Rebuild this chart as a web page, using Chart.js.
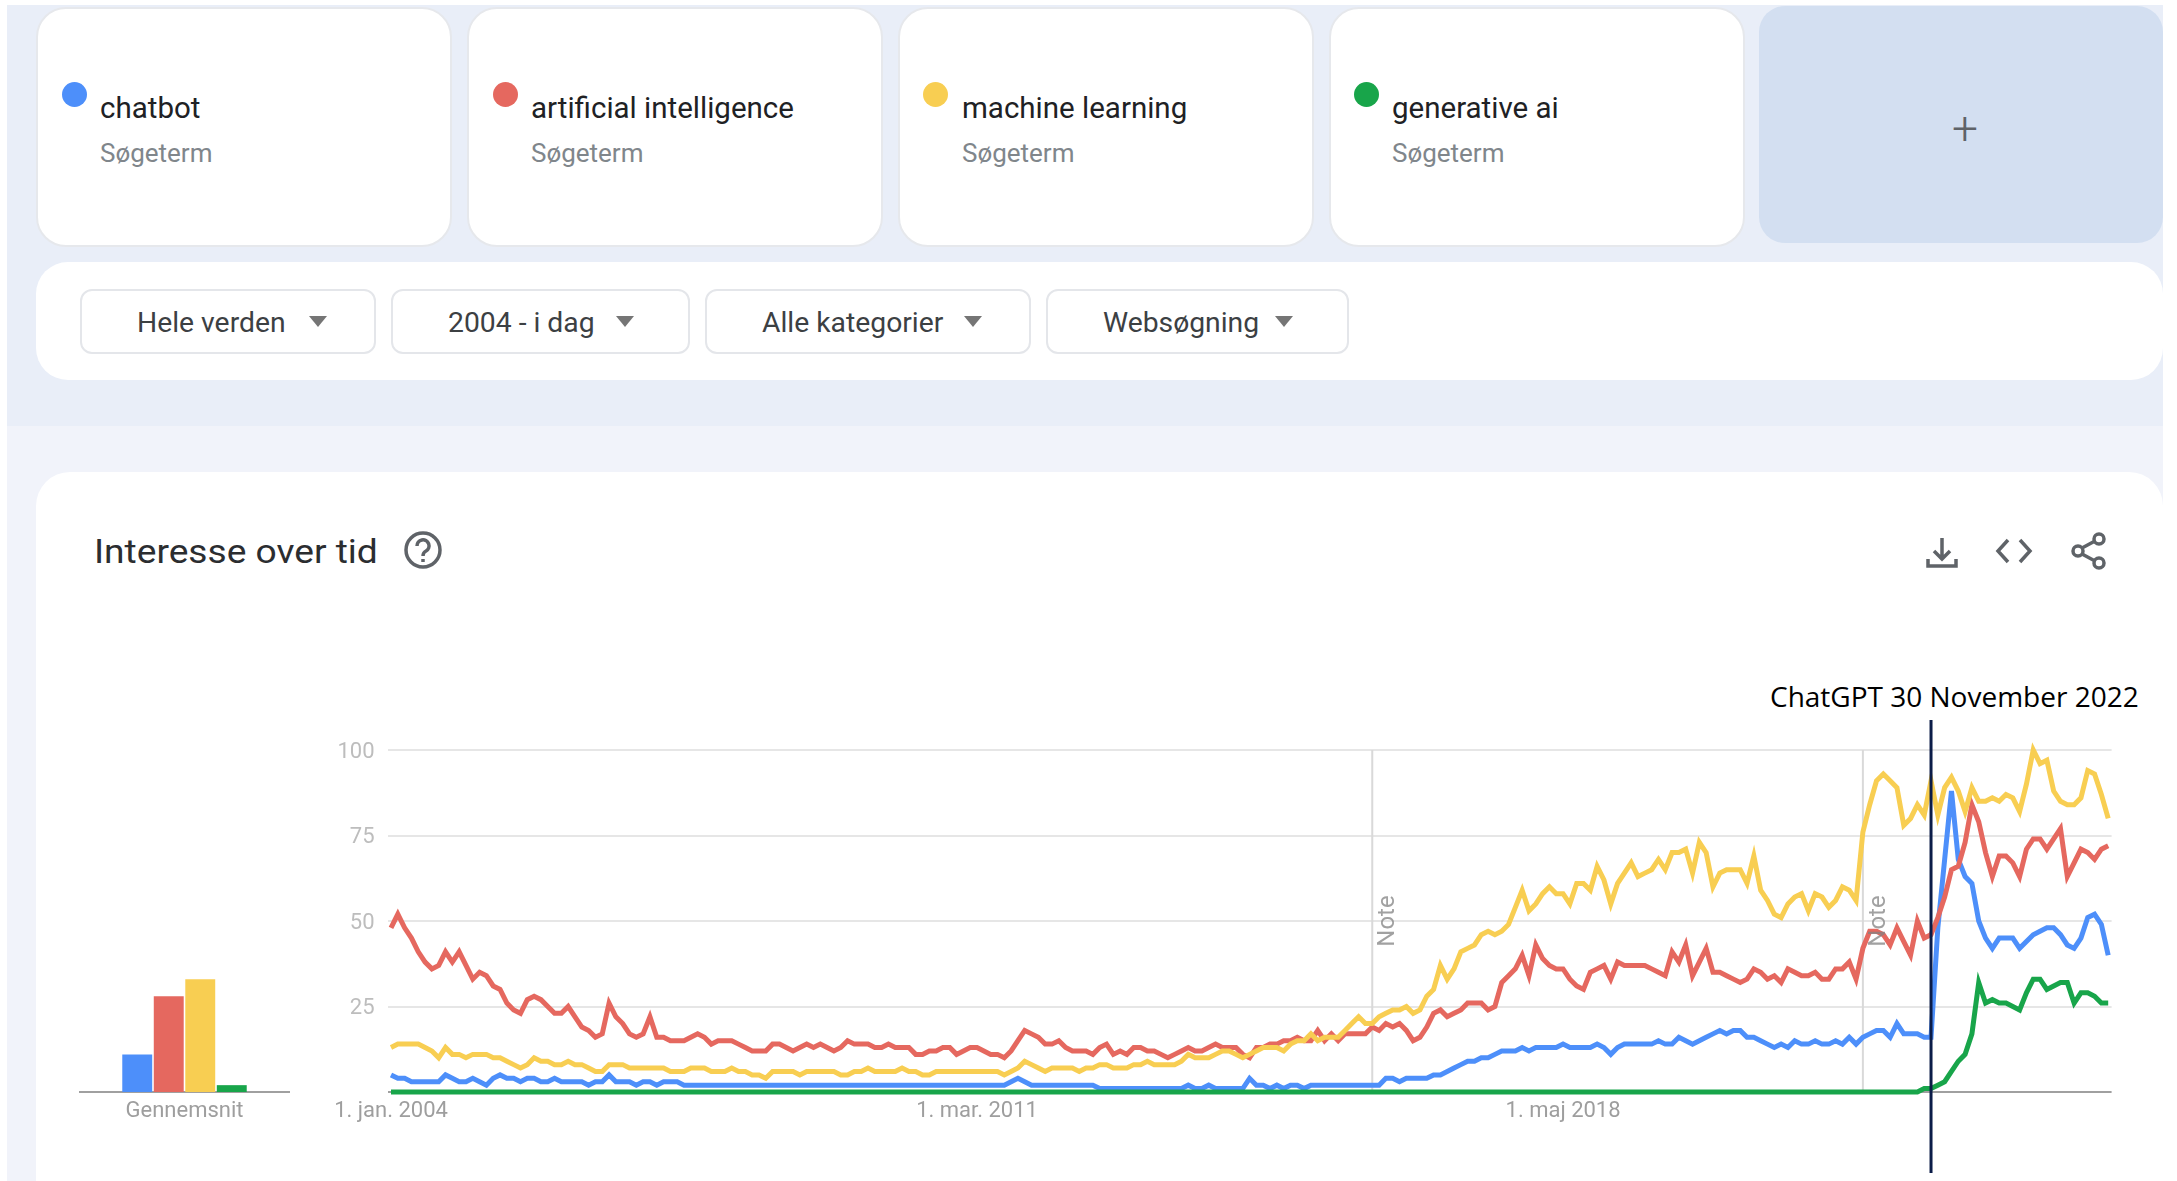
<!DOCTYPE html>
<html>
<head>
<meta charset="utf-8">
<title>Interesse over tid</title>
<script src="https://cdn.jsdelivr.net/npm/chart.js@4/dist/chart.umd.min.js"></script>
<style>
  html, body { margin: 0; padding: 0; background: #fff; width: 2177px; height: 1181px; overflow: hidden; font-family: Roboto, sans-serif; }
  .box { position: absolute; box-sizing: border-box; }
  .txt { position: absolute; white-space: nowrap; line-height: 1; transform-origin: 0 50%; }
  .card { background: #fff; border: 2px solid #e6e8ec; border-radius: 30px; top: 7px; height: 240px; width: 416px; }
  .btn { background: #fff; border: 2px solid #e4e6ea; border-radius: 12px; top: 289px; height: 65px; }
  .dot { position: absolute; width: 25px; height: 25px; border-radius: 50%; top: 82px; }
  .term { font-size: 29.5px; color: #202124; top: 94px; }
  .sub { font-size: 26px; color: #80868b; top: 140px; }
  .flt { font-size: 28.3px; color: #3c4043; top: 309px; }
  .arrow { position: absolute; top: 316px; width: 0; height: 0; border-left: 9px solid transparent; border-right: 9px solid transparent; border-top: 11px solid #757575; }
  canvas { position: absolute; top: 700px; }
  svg { position: absolute; fill: none; stroke: #5f6368; stroke-width: 3.5; }
</style>
</head>
<body>
<div class="box" style="left:7px;top:5px;right:14px;height:421px;background:#e9eef8"></div>
<div class="box" style="left:7px;top:426px;right:14px;bottom:0;background:#f1f3fa"></div>
<div class="box" style="left:36px;top:472px;right:14px;bottom:0;background:#fff;border-radius:34px 34px 0 0"></div>

<div class="box card" style="left:36px"></div>
<div class="box card" style="left:467px"></div>
<div class="box card" style="left:898px"></div>
<div class="box card" style="left:1329px"></div>
<div class="box" style="left:1759px;top:6px;right:14px;height:237px;background:#d3dff1;border-radius:26px"></div>
<div class="txt" style="left:1952px;top:105px;font-size:46px;font-weight:300;color:#5f6368">+</div>

<div class="dot" style="left:62px;background:#4d8ffa"></div>
<div class="dot" style="left:493px;background:#e5685f"></div>
<div class="dot" style="left:923px;background:#f8ce52"></div>
<div class="dot" style="left:1354px;background:#18a54a"></div>
<div class="txt term" style="left:100px">chatbot</div>
<div class="txt term" style="left:531px">artificial intelligence</div>
<div class="txt term" style="left:962px">machine learning</div>
<div class="txt term" style="left:1392px">generative ai</div>
<div class="txt sub" style="left:100px">Søgeterm</div>
<div class="txt sub" style="left:531px">Søgeterm</div>
<div class="txt sub" style="left:962px">Søgeterm</div>
<div class="txt sub" style="left:1392px">Søgeterm</div>

<div class="box" style="left:36px;top:262px;right:14px;height:118px;background:#fff;border-radius:32px"></div>
<div class="box btn" style="left:80px;width:296px"></div>
<div class="box btn" style="left:391px;width:299px"></div>
<div class="box btn" style="left:705px;width:326px"></div>
<div class="box btn" style="left:1046px;width:303px"></div>
<div class="txt flt" style="left:137px">Hele verden</div>
<div class="txt flt" style="left:448px">2004 - i dag</div>
<div class="txt flt" style="left:762px">Alle kategorier</div>
<div class="txt flt" style="left:1103px">Websøgning</div>
<div class="arrow" style="left:309px"></div>
<div class="arrow" style="left:616px"></div>
<div class="arrow" style="left:964px"></div>
<div class="arrow" style="left:1275px"></div>

<div class="txt" style="left:94px;top:535px;font-size:33px;color:#2b2d30;transform:scaleX(1.125)">Interesse over tid</div>
<svg style="left:403px;top:530px" width="40" height="40" viewBox="0 0 40 40">
  <circle cx="20" cy="20" r="17"></circle>
  <path d="M14 16a6 6 0 1 1 9 5c-2 1-3 2-3 5"></path>
  <path d="M20 29v3"></path>
</svg>
<svg style="left:1925px;top:535px" width="34" height="34" viewBox="0 0 34 34">
  <path d="M17 3v20M9 16l8 8 8-8M3 24v7h28v-7"></path>
</svg>
<svg style="left:1995px;top:535px" width="38" height="32" viewBox="0 0 38 32">
  <path d="M13 5L3 16l10 11M25 5l10 11-10 11"></path>
</svg>
<svg style="left:2071px;top:532px" width="36" height="38" viewBox="0 0 36 38">
  <circle cx="28" cy="7" r="5"></circle><circle cx="7" cy="19" r="5"></circle><circle cx="28" cy="31" r="5"></circle>
  <path d="M11 16l13-7M11 22l13 7"></path>
</svg>

<div class="txt" style="left:1770px;top:682px;font-family:'Open Sans',sans-serif;font-size:28px;color:#000">ChatGPT 30 November 2022</div>

<canvas id="avg" width="300" height="481" style="left:0"></canvas>
<canvas id="trend" width="1877" height="481" style="left:300px"></canvas>

<script>
var monthNames = ['jan.', 'feb.', 'mar.', 'apr.', 'maj', 'jun.', 'jul.', 'aug.', 'sep.', 'okt.', 'nov.', 'dec.'];
var tickLabels = ['1. jan. 2004', '1. mar. 2011', '1. maj 2018'];
var yTicks = [25, 50, 75, 100];
var noteMonths = ['1. jan. 2016', '1. jan. 2022'];
var chatgptMonth = '1. nov. 2022';

var chatbot = [
  5,4,4,3,3,3,3,3,5,4, 3,3,4,3,2,4,5,4,4,3, 4,4,3,3,4,3,3,3,3,2, 3,3,5,3,3,3,2,3,3,2,
  3,3,3,2,2,2,2,2,2,2, 2,2,2,2,2,2,2,2,2,2, 2,2,2,2,2,2,2,2,2,2, 2,2,2,2,2,2,2,2,2,2,
  2,2,2,2,2,2,2,2,2,2, 2,3,4,3,2,2,2,2,2,2, 2,2,2,2,1,1,1,1,1,1, 1,1,1,1,1,1,1,2,1,1,
  2,1,1,1,1,1,4,2,2,1, 2,1,2,2,1,2,2,2,2,2, 2,2,2,2,2,2,4,4,3,4, 4,4,4,5,5,6,7,8,9,9,
  10,10,11,12,12,12,13,12,13,13, 13,13,14,13,13,13,13,14,13,11, 13,14,14,14,14,14,15,14,14,16,
  15,14,15,16,17,18,17,18,18,16, 16,15,14,13,14,13,15,14,14,15, 14,14,15,14,16,14,16,17,18,18,
  16,20,17,17,17,16,16,48,68,88, 68,63,61,50,45,42,45,45,45,42, 44,46,47,48,48,46,43,42,45,51,
  52,49,40
];
var artificialIntelligence = [
  48,52,48,45,41,38,36,37,41,38, 41,37,33,35,34,31,30,26,24,23, 27,28,27,25,23,23,25,22,19,18,
  16,17,26,22,20,17,16,17,22,16, 16,15,15,15,16,17,16,14,15,15, 15,14,13,12,12,12,14,14,13,12,
  13,14,13,14,13,12,13,15,14,14, 14,13,13,14,13,13,13,11,11,12, 12,13,13,11,12,13,13,12,11,11,
  10,12,15,18,17,16,14,14,15,13, 12,12,12,11,13,14,11,12,11,13, 13,12,12,11,10,11,12,13,12,12,
  13,14,13,13,13,11,10,13,13,14, 14,15,15,16,15,15,18,15,17,15, 17,17,17,17,19,18,20,19,20,18,
  15,16,19,23,24,22,23,24,26,26, 26,24,25,32,34,36,40,34,43,39, 37,36,36,33,31,30,35,36,37,33,
  38,37,37,37,37,36,35,34,41,38, 43,34,38,42,35,35,34,33,32,33, 36,35,33,34,32,36,35,34,34,35,
  33,33,36,36,38,33,42,47,47,46, 43,48,44,40,50,45,46,51,57,65, 66,73,84,79,70,63,69,69,67,63,
  71,74,74,71,74,77,63,67,71,70, 68,71,72
];
var machineLearning = [
  13,14,14,14,14,13,12,10,13,11, 11,10,11,11,11,10,10,9,8,7, 8,10,9,9,8,8,9,8,8,7,
  6,6,8,8,8,7,7,7,7,7, 7,6,6,6,7,7,7,6,6,6, 7,6,6,5,5,4,6,6,6,6,
  5,6,6,6,6,6,5,5,6,6, 7,6,6,6,6,7,6,6,5,5, 6,6,6,6,6,6,6,6,6,6,
  5,6,7,9,8,7,6,7,7,7, 7,6,7,7,8,8,7,7,7,8, 8,9,8,8,8,8,9,11,10,10,
  10,11,12,12,11,10,11,12,13,13, 13,12,14,15,15,17,15,16,16,16, 18,20,22,20,20,22,23,24,24,25,
  23,24,28,30,37,33,36,41,42,43, 46,47,46,47,49,54,59,53,55,58, 60,58,58,55,61,61,59,66,62,55,
  61,64,67,63,64,65,68,65,70,70, 71,64,73,70,60,64,65,65,65,61, 69,59,56,52,51,55,57,58,53,58,
  57,54,56,60,59,56,76,84,91,93, 91,89,78,80,84,81,91,81,89,92, 88,82,89,85,85,86,85,87,86,82,
  90,100,96,97,88,85,84,84,86,94, 93,87,80
];
var generativeAi = [
  0,0,0,0,0,0,0,0,0,0, 0,0,0,0,0,0,0,0,0,0, 0,0,0,0,0,0,0,0,0,0, 0,0,0,0,0,0,0,0,0,0,
  0,0,0,0,0,0,0,0,0,0, 0,0,0,0,0,0,0,0,0,0, 0,0,0,0,0,0,0,0,0,0, 0,0,0,0,0,0,0,0,0,0,
  0,0,0,0,0,0,0,0,0,0, 0,0,0,0,0,0,0,0,0,0, 0,0,0,0,0,0,0,0,0,0, 0,0,0,0,0,0,0,0,0,0,
  0,0,0,0,0,0,0,0,0,0, 0,0,0,0,0,0,0,0,0,0, 0,0,0,0,0,0,0,0,0,0, 0,0,0,0,0,0,0,0,0,0,
  0,0,0,0,0,0,0,0,0,0, 0,0,0,0,0,0,0,0,0,0, 0,0,0,0,0,0,0,0,0,0, 0,0,0,0,0,0,0,0,0,0,
  0,0,0,0,0,0,0,0,0,0, 0,0,0,0,0,0,0,0,0,0, 0,0,0,0,0,1,1,2,3,6,
  9,11,17,32,26,27,26,26,25,24, 29,33,33,30,31,32,32,26,29,29, 28,26,26
];
var averageLabels = ['Gennemsnit'];
var averages = [11, 28, 33, 2];
var seriesNames = ['chatbot', 'artificial intelligence', 'machine learning', 'generative ai'];
var colors = ['#4d8ffa', '#e5685f', '#f8ce52', '#18a54a'];

var months = [];
for (var y = 2004; y <= 2025; y++) {
  for (var m = 0; m < 12; m++) {
    if (months.length < chatbot.length) months.push('1. ' + monthNames[m] + ' ' + y);
  }
}

function lineSet(i, values) {
  // first dataset gets drawn on top, so generative ai has the lowest order
  return {
    label: seriesNames[i],
    data: values,
    borderColor: colors[i],
    borderWidth: 5,
    pointRadius: 0,
    tension: 0,
    clip: false,
    borderJoinStyle: 'miter',
    order: 4 - i
  };
}

var eventLines = {
  id: 'eventLines',
  beforeDatasetsDraw: function(chart) {
    var ctx = chart.ctx, area = chart.chartArea;
    ctx.save();
    ctx.strokeStyle = '#d9d9d9';
    ctx.lineWidth = 2;
    noteMonths.forEach(function(month) {
      var x = chart.scales.x.getPixelForValue(months.indexOf(month));
      ctx.beginPath();
      ctx.moveTo(x, area.top);
      ctx.lineTo(x, area.bottom);
      ctx.stroke();
    });
    ctx.restore();
  },
  afterDatasetsDraw: function(chart) {
    var ctx = chart.ctx, area = chart.chartArea;
    ctx.save();
    ctx.fillStyle = 'rgba(130,130,130,0.75)';
    ctx.font = '24px Roboto';
    ctx.textAlign = 'center';
    ctx.textBaseline = 'middle';
    noteMonths.forEach(function(month) {
      var x = chart.scales.x.getPixelForValue(months.indexOf(month));
      ctx.save();
      ctx.translate(x + 16, chart.scales.y.getPixelForValue(50));
      ctx.rotate(-Math.PI / 2);
      ctx.fillText('Note', 0, 0);
      ctx.restore();
    });
    var gptX = chart.scales.x.getPixelForValue(months.indexOf(chatgptMonth));
    ctx.strokeStyle = '#0b1c48';
    ctx.lineWidth = 3;
    ctx.beginPath();
    ctx.moveTo(gptX, area.top - 30);
    ctx.lineTo(gptX, area.bottom + 81);
    ctx.stroke();
    ctx.restore();
  }
};

new Chart(document.getElementById('trend').getContext('2d'), {
  type: 'line',
  data: {
    labels: months,
    datasets: [
      lineSet(0, chatbot),
      lineSet(1, artificialIntelligence),
      lineSet(2, machineLearning),
      lineSet(3, generativeAi)
    ]
  },
  plugins: [eventLines],
  options: {
    responsive: false,
    animation: false,
    devicePixelRatio: 1,
    layout: { padding: { left: 0, right: 65.4, top: 50, bottom: 0 } },
    plugins: { legend: { display: false }, tooltip: { enabled: false } },
    scales: {
      x: {
        offset: true,
        grid: { display: false, drawTicks: false },
        border: { display: false },
        afterFit: function(scale) { scale.height = 89; },
        ticks: {
          autoSkip: false,
          maxRotation: 0,
          padding: 6,
          color: '#9e9e9e',
          font: { family: 'Roboto', size: 22 },
          callback: function(value) {
            var label = this.getLabelForValue(value);
            return tickLabels.indexOf(label) >= 0 ? label : '';
          }
        }
      },
      y: {
        min: 0,
        max: 100,
        afterFit: function(scale) { scale.width = 87.6; },
        afterBuildTicks: function(scale) {
          scale.ticks = [0].concat(yTicks).map(function(v) { return { value: v }; });
        },
        border: { display: false },
        grid: {
          drawTicks: false,
          lineWidth: 2,
          color: function(c) { return c.tick.value === 0 ? '#a0a0a0' : '#e6e6e6'; }
        },
        ticks: {
          padding: 13,
          labelOffset: 2,
          color: '#bdbdbd',
          font: { family: 'Roboto', size: 22 },
          callback: function(value) { return value === 0 ? '' : value; }
        }
      }
    }
  }
});

new Chart(document.getElementById('avg').getContext('2d'), {
  type: 'bar',
  data: {
    labels: averageLabels,
    datasets: averages.map(function(v, i) {
      return {
        label: seriesNames[i],
        data: [v],
        backgroundColor: colors[i],
        borderWidth: 0,
        categoryPercentage: 0.603,
        barPercentage: 0.95
      };
    })
  },
  options: {
    responsive: false,
    animation: false,
    devicePixelRatio: 1,
    layout: { padding: { left: 80, right: 11, top: 50, bottom: 0 } },
    plugins: { legend: { display: false }, tooltip: { enabled: false } },
    scales: {
      x: {
        grid: { display: false, drawTicks: false },
        border: { display: true, color: '#a0a0a0', width: 2 },
        afterFit: function(scale) { scale.height = 89; },
        ticks: {
          padding: 6,
          maxRotation: 0,
          color: '#9e9e9e',
          font: { family: 'Roboto', size: 22 }
        }
      },
      y: { display: false, min: 0, max: 100 }
    }
  }
});
</script>
</body>
</html>
